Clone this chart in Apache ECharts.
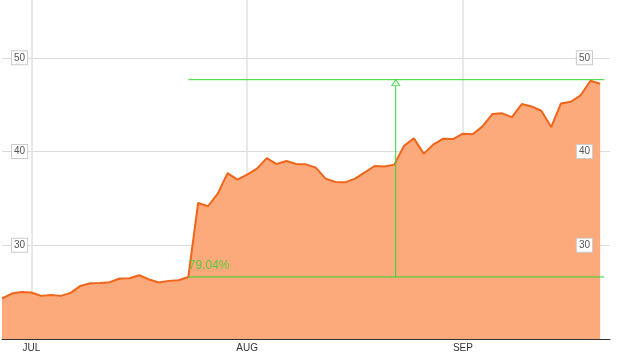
<!DOCTYPE html>
<html><head><meta charset="utf-8">
<script src="https://cdn.jsdelivr.net/npm/echarts@6/dist/echarts.min.js"></script>
<style>html,body{margin:0;padding:0;background:#fff;overflow:hidden}#c{position:absolute;left:0;top:-36px;width:622px;height:391px}</style>
</head><body><div id="c"></div>
<script>
// trading-day slots (one trailing empty slot)
const categories = Array.from({length: 63}, (_, i) => String(i));
const monthTicks = ['JUL', 'AUG', 'SEP'];
const monthStartIdx = [3, 25, 47];
const prices = [24.32,24.85,25.02,24.96,24.60,24.70,24.60,24.92,25.66,25.95,
  25.98,26.06,26.45,26.48,26.80,26.35,26.03,26.20,26.27,26.62,
  34.51,34.16,35.51,37.70,37.00,37.53,38.17,39.30,38.66,38.98,
  38.66,38.63,38.28,37.11,36.74,36.71,37.11,37.78,38.45,38.39,
  38.60,40.62,41.40,39.77,40.76,41.37,41.33,41.90,41.83,42.68,
  43.99,44.07,43.67,45.06,44.81,44.35,42.61,45.13,45.31,45.98,
  47.55,47.23];
const gainStartIdx = 19;
const gainEndIdx = 61.41;
const gainArrowIdx = 40.15;
const gainPct = 79.04;

const gainBase = prices[gainStartIdx];
const gainTop = gainBase * (1 + gainPct / 100);
const green = '#2fd62f';
const font = 'Arial, "Liberation Sans", sans-serif';
const boxLabel = {
  inside: true, color: '#555', fontSize: 10, fontFamily: font,
  backgroundColor: '#fff', borderColor: '#ccc', borderWidth: 1,
  padding: [2, 2, 1, 2], showMinLabel: false, showMaxLabel: false
};

const chart = echarts.init(document.getElementById('c'), null, {renderer: 'canvas'});
chart.setOption({
  animation: false,
  grid: {left: 2, right: 12, top: 0, bottom: 16},
  xAxis: [{
    type: 'category', data: categories, boundaryGap: false,
    axisLine: {lineStyle: {color: '#333', width: 1}},
    axisTick: {show: false},
    axisLabel: {
      interval: (i) => monthStartIdx.includes(i),
      formatter: (v) => { const k = monthStartIdx.indexOf(Number(v)); return k >= 0 ? monthTicks[k] : ''; },
      color: '#333', fontSize: 10, fontFamily: font, margin: 4
    },
    splitLine: {show: true, interval: (i) => monthStartIdx.includes(i), lineStyle: {color: '#e2e2e2', width: 1.5}}
  }, {
    type: 'value', min: 0, max: categories.length - 1, show: false
  }],
  yAxis: [{
    type: 'value', position: 'left', min: 20, max: 60, interval: 10,
    axisLine: {show: false}, axisTick: {show: false},
    splitLine: {lineStyle: {color: '#dcdcdc', width: 1}},
    axisLabel: Object.assign({margin: 10}, boxLabel)
  }, {
    type: 'value', position: 'right', min: 20, max: 60, interval: 10, z: 10,
    axisLine: {show: false}, axisTick: {show: false}, splitLine: {show: false},
    axisLabel: Object.assign({margin: 18}, boxLabel)
  }],
  series: [{
    type: 'line', data: prices, symbol: 'none', z: 2,
    lineStyle: {color: '#f0651a', width: 2},
    areaStyle: {color: '#fcaa7b', opacity: 1}
  }, {
    type: 'line', xAxisIndex: 1, yAxisIndex: 0, symbol: 'none', silent: true, z: 5,
    lineStyle: {color: green, width: 1},
    data: [[gainStartIdx, gainBase], [gainEndIdx, gainBase]]
  }, {
    type: 'line', xAxisIndex: 1, yAxisIndex: 0, symbol: 'none', silent: true, z: 5,
    lineStyle: {color: green, width: 1},
    data: [[gainStartIdx, gainTop], [gainEndIdx, gainTop]]
  }, {
    type: 'line', xAxisIndex: 1, yAxisIndex: 0, symbol: 'none', silent: true, z: 5,
    lineStyle: {color: green, width: 1},
    data: [[gainArrowIdx, gainBase], [gainArrowIdx, gainTop]]
  }, {
    type: 'scatter', xAxisIndex: 1, yAxisIndex: 0, silent: true, z: 6,
    symbol: 'triangle', symbolSize: [8, 6], symbolOffset: [0, 3],
    itemStyle: {color: '#fff', borderColor: green, borderWidth: 1},
    data: [[gainArrowIdx, gainTop]]
  }, {
    type: 'scatter', xAxisIndex: 1, yAxisIndex: 0, silent: true, z: 6,
    symbol: 'circle', symbolSize: 1, itemStyle: {color: 'rgba(0,0,0,0)'},
    label: {show: true, position: [1, -17], formatter: gainPct.toFixed(2) + '%',
      color: green, fontSize: 12, fontFamily: font},
    data: [[gainStartIdx, gainBase]]
  }]
});
</script>
</body></html>
